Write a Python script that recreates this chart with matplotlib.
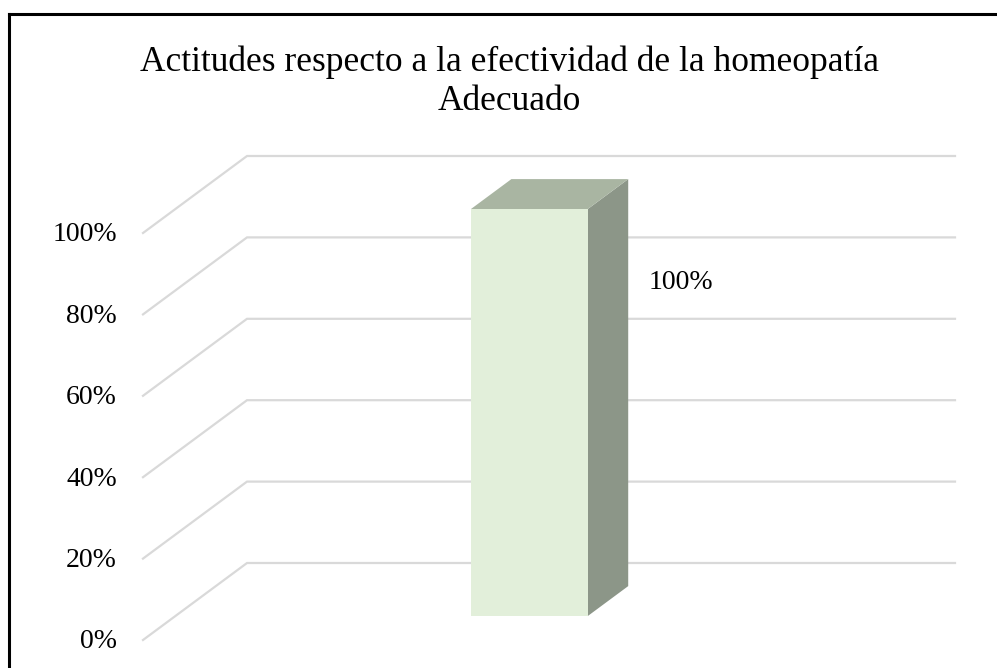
import matplotlib.pyplot as plt
from matplotlib.patches import Polygon

plt.rcParams['font.family'] = ['Liberation Serif', 'DejaVu Serif']

# data
title_lines = ["Actitudes respecto a la efectividad de la homeopatía", "Adecuado"]
categories = ["Adecuado"]
values = [1.0]
ticks = [0.0, 0.2, 0.4, 0.6, 0.8, 1.0]
tick_labels = ["0%", "20%", "40%", "60%", "80%", "100%"]
bar_labels = ["100%"]

# oblique 3d look: depth shift of the back wall, in data units
DX = 104 / 708.0
DY = 77 / 407.0
BAR_W = 0.165
D0, D1 = 0.31, 0.70

front_c = '#E2EFDA'
top_c = '#A9B5A2'
side_c = '#8C9688'
grid_c = '#D9D9D9'


def proj(x, v, d):
    return (x + d * DX, v + d * DY)


fig = plt.figure(figsize=(9.97, 6.68), dpi=100)
ax = fig.add_axes([0, 0, 1, 1])
# front plane: category span -0.5..0.5 -> px 143..851, value 0..1 -> px 28..435 (from bottom)
sx, sy = 708.0, 407.0
ax.set_xlim(-0.5 - 143 / sx, -0.5 + (997 - 143) / sx)
ax.set_ylim(-28 / sy, (668 - 28) / sy)
ax.axis('off')

# gridlines: left wall diagonal + back wall horizontal
for t in ticks:
    p0 = proj(-0.5, t, 0)
    p1 = proj(-0.5, t, 1)
    p2 = proj(0.5, t, 1)
    ax.plot([p0[0], p1[0], p2[0]], [p0[1], p1[1], p2[1]], color=grid_c,
            lw=1.6, solid_joinstyle='miter', zorder=1)

for t, lab in zip(ticks, tick_labels):
    ax.text(-0.5 - 26 / sx, t - 2 / sy, lab, ha='right', va='center', fontsize=20)

# bars
for i, (cat, v, lab) in enumerate(zip(categories, values, bar_labels)):
    xl, xr = i - BAR_W / 2, i + BAR_W / 2
    front = [proj(xl, 0, D0), proj(xr, 0, D0), proj(xr, v, D0), proj(xl, v, D0)]
    top = [proj(xl, v, D0), proj(xr, v, D0), proj(xr, v, D1), proj(xl, v, D1)]
    side = [proj(xr, 0, D0), proj(xr, 0, D1), proj(xr, v, D1), proj(xr, v, D0)]
    ax.add_patch(Polygon(side, closed=True, fc=side_c, ec='none', zorder=3))
    ax.add_patch(Polygon(top, closed=True, fc=top_c, ec='none', zorder=3))
    ax.add_patch(Polygon(front, closed=True, fc=front_c, ec='none', zorder=4))
    lx, ly = proj(xr, v, D0)
    ax.text(lx + 61 / sx, ly - 73 / sy, lab,
            ha='left', va='center', fontsize=20, zorder=5)

# title
fig.text(0.511, 1 - 62 / 668, title_lines[0], ha='center', va='center', fontsize=25.5)
fig.text(0.511, 1 - 101 / 668, title_lines[1], ha='center', va='center', fontsize=25.5)

# chart border (top and left visible)
ax.plot([(9 - 143) / sx - 0.5, (997 - 143) / sx - 0.5], [(668 - 28 - 14.5) / sy] * 2,
        color='black', lw=2.2, clip_on=False)
ax.plot([(9 - 143) / sx - 0.5] * 2, [(668 - 28 - 14.5) / sy, -28 / sy],
        color='black', lw=2.2, clip_on=False)

fig.savefig('out.png', dpi=100)
